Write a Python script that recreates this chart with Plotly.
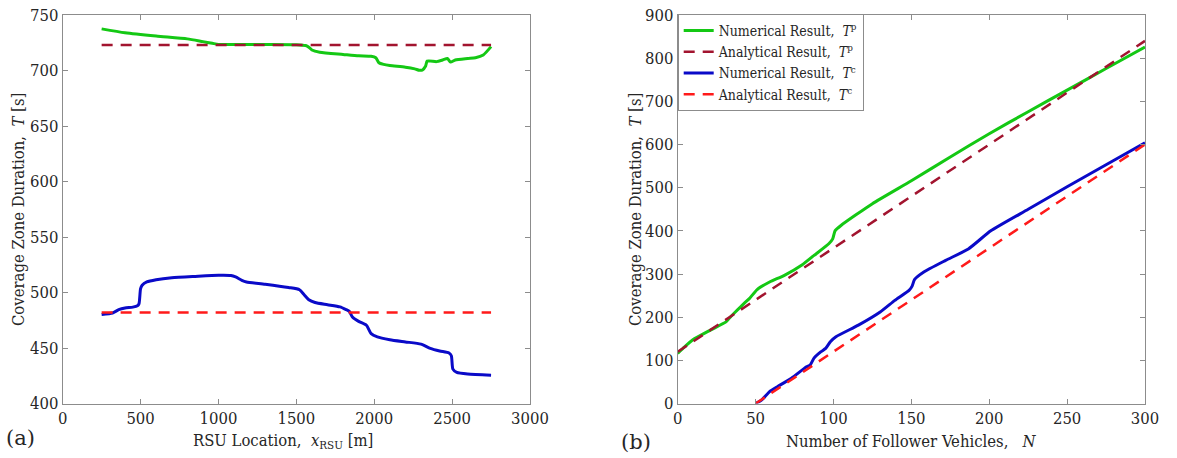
import plotly.graph_objects as go

# Panel (a): coverage duration vs RSU location
xa_tp = [250, 400, 600, 800, 900, 960, 1000, 1100, 1300, 1500, 1560, 1580, 1600, 1650, 1800, 1900, 1980, 2010, 2030, 2060, 2100, 2200, 2260, 2290, 2310, 2330, 2340, 2400, 2440, 2470, 2490, 2520, 2600, 2650, 2700, 2750]
ya_tp = [737.5, 734, 731, 728.5, 726, 724.5, 723.5, 723.5, 723.5, 723.3, 722.5, 721, 718.5, 716.5, 714.5, 713.2, 712.8, 711.5, 707, 705.5, 704.5, 703, 701.5, 700.2, 700.5, 704, 708.5, 708, 709.5, 710.8, 707.6, 709.5, 710.8, 711.5, 714, 721.5]
xa_tp_an = [250, 2750]
ya_tp_an = [723, 723]

xa_tc = [250, 320, 360, 400, 450, 480, 490, 500, 510, 540, 600, 700, 850, 1000, 1080, 1110, 1150, 1180, 1300, 1450, 1520, 1550, 1580, 1620, 1700, 1780, 1820, 1840, 1860, 1900, 1950, 1980, 2020, 2100, 2200, 2300, 2360, 2420, 2480, 2495, 2505, 2530, 2600, 2750]
ya_tc = [480.2, 481.5, 484.5, 486, 486.8, 488, 490, 503.5, 506.5, 509.5, 511.5, 513.3, 514.5, 515.5, 515.3, 514, 511, 509.5, 507.5, 504.5, 502.5, 498, 493.5, 491, 489, 487, 484.5, 483, 478, 474, 470.5, 463, 460, 457.5, 455.5, 453.5, 449.7, 447.3, 445.5, 443, 431, 428, 426.5, 425.5]
xa_tc_an = [250, 2750]
ya_tc_an = [482, 482]

# Panel (b): coverage duration vs number of follower vehicles
xb_tp = [0, 3.5, 9.5, 21, 31, 34, 37, 42.5, 46, 51, 59, 68.5, 80, 87.5, 97, 99.5, 101, 105, 125, 150, 175, 200, 225, 250, 275, 300]
yb_tp = [116, 128, 147, 170, 189, 201, 212, 231.5, 243, 264, 281.5, 297, 321.5, 343, 370, 381.5, 400, 413, 463, 516, 571, 625, 676, 726, 776, 826]
xb_tp_an = [0, 300]
yb_tp_an = [120, 840]

xb_tc = [50, 54, 59, 64, 73, 82.7, 85, 87.4, 92, 95, 98, 101.6, 116, 130, 139.4, 148.5, 150.5, 152, 158, 172, 186.6, 201, 225, 250, 275, 300]
yb_tc = [0, 8.5, 27.7, 39, 58.5, 85, 89, 104.6, 120, 127.7, 143, 154.6, 181.5, 212, 239, 262, 272, 287, 304.6, 331.5, 358, 400, 450, 502, 553, 604]
xb_tc_an = [50, 300]
yb_tc_an = [0, 600]

xticks_a = [0, 500, 1000, 1500, 2000, 2500, 3000]
yticks_a = [400, 450, 500, 550, 600, 650, 700, 750]
xticks_b = [0, 50, 100, 150, 200, 250, 300]
yticks_b = [0, 100, 200, 300, 400, 500, 600, 700, 800, 900]

GREEN = "#14c814"
MAROON = "#a2142f"
BLUE = "#0a0ac8"
RED = "#ff1a1a"
F_C = "DejaVu Serif Condensed"
F_S = "DejaVu Serif"
TXT = "#262626"
DASH = "11px,8px"

fig = go.Figure()
fig.add_trace(go.Scatter(x=xa_tp, y=ya_tp, mode="lines", line=dict(color=GREEN, width=3, shape="spline", smoothing=0.6), showlegend=False, xaxis="x", yaxis="y"))
fig.add_trace(go.Scatter(x=xa_tp_an, y=ya_tp_an, mode="lines", line=dict(color=MAROON, width=2.5, dash=DASH), showlegend=False, xaxis="x", yaxis="y"))
fig.add_trace(go.Scatter(x=xa_tc, y=ya_tc, mode="lines", line=dict(color=BLUE, width=3, shape="spline", smoothing=0.6), showlegend=False, xaxis="x", yaxis="y"))
fig.add_trace(go.Scatter(x=xa_tc_an, y=ya_tc_an, mode="lines", line=dict(color=RED, width=2.5, dash=DASH), showlegend=False, xaxis="x", yaxis="y"))

fig.add_trace(go.Scatter(x=xb_tp, y=yb_tp, mode="lines", name="Numerical Result,  <i>T</i><sup>p</sup>", line=dict(color=GREEN, width=3, shape="spline", smoothing=0.5), xaxis="x2", yaxis="y2"))
fig.add_trace(go.Scatter(x=xb_tp_an, y=yb_tp_an, mode="lines", name="Analytical Result,  <i>T</i><sup>p</sup>", line=dict(color=MAROON, width=2.5, dash=DASH), xaxis="x2", yaxis="y2"))
fig.add_trace(go.Scatter(x=xb_tc, y=yb_tc, mode="lines", name="Numerical Result,  <i>T</i><sup>c</sup>", line=dict(color=BLUE, width=3, shape="spline", smoothing=0.5), xaxis="x2", yaxis="y2"))
fig.add_trace(go.Scatter(x=xb_tc_an, y=yb_tc_an, mode="lines", name="Analytical Result,  <i>T</i><sup>c</sup>", line=dict(color=RED, width=2.5, dash=DASH), xaxis="x2", yaxis="y2"))

W, H = 1177, 458
ydom = [(H - 403.5) / H, (H - 15) / H]
axcommon = dict(showline=True, linecolor="#8c8c8c", linewidth=1, mirror="ticks", ticks="inside", ticklen=5,
                tickcolor="#8c8c8c", showgrid=False, zeroline=False, automargin=False,
                tickfont=dict(family=F_C, size=16.5, color=TXT))
tfont = dict(family=F_C, size=16.5, color=TXT)

fig.update_layout(
    width=W, height=H, margin=dict(l=0, r=0, t=0, b=0),
    paper_bgcolor="white", plot_bgcolor="white",
    font=dict(family=F_C, color=TXT),
    xaxis=dict(domain=[62.7 / W, 530 / W], range=[0, 3000], tickvals=xticks_a, anchor="y", **axcommon),
    yaxis=dict(domain=ydom, range=[400, 750], tickvals=yticks_a, anchor="x", **axcommon),
    xaxis2=dict(domain=[677.7 / W, 1145 / W], range=[0, 300], tickvals=xticks_b, anchor="y2", **axcommon),
    yaxis2=dict(domain=ydom, range=[0, 900], tickvals=yticks_b, anchor="x2", **axcommon),
    legend=dict(x=677.7 / W, y=(H - 14) / H, xanchor="left", yanchor="top", bordercolor="#8c8c8c", borderwidth=1,
                bgcolor="white", font=dict(family=F_C, size=14, color=TXT), tracegroupgap=0,
                itemwidth=30),
    annotations=[
        dict(text="RSU Location,  <i>x</i><sub>RSU</sub> [m]", x=283 / W, y=(H - 441) / H, xref="paper", yref="paper",
             xanchor="center", yanchor="middle", showarrow=False, font=tfont),
        dict(text="Number of Follower Vehicles,   <i>N</i>", x=911 / W, y=(H - 441) / H, xref="paper", yref="paper",
             xanchor="center", yanchor="middle", showarrow=False, font=tfont),
        dict(text="Coverage Zone Duration,  <i>T</i> [s]", x=19 / W, y=(H - 210) / H, xref="paper", yref="paper",
             xanchor="center", yanchor="middle", textangle=-90, showarrow=False, font=tfont),
        dict(text="Coverage Zone Duration,  <i>T</i> [s]", x=636 / W, y=(H - 210) / H, xref="paper", yref="paper",
             xanchor="center", yanchor="middle", textangle=-90, showarrow=False, font=tfont),
        dict(text="(a)", x=4 / W, y=(H - 438) / H, xref="paper", yref="paper", xanchor="left", yanchor="middle",
             showarrow=False, font=dict(family=F_S, size=21, color=TXT)),
        dict(text="(b)", x=619 / W, y=(H - 442) / H, xref="paper", yref="paper", xanchor="left", yanchor="middle",
             showarrow=False, font=dict(family=F_S, size=21, color=TXT)),
    ],
)

fig.write_html("out.html", config={"displayModeBar": False},
               post_script="document.body.style.margin='0';document.body.style.padding='0';")
